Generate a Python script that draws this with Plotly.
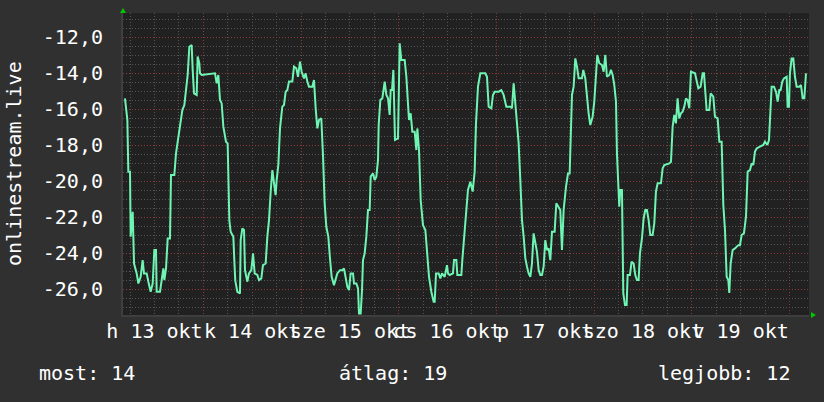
import datetime as dt
import plotly.graph_objects as go

# ---------------- data ----------------
start_day = dt.datetime(2025, 10, 13)

hours = [
    4.76, 5.17, 5.34, 5.58, 5.99, 6.16, 6.65, 6.81, 6.98, 7.63, 8.04, 8.61, 9.10, 9.43, 10.09, 10.50,
    11.07, 11.56, 11.97, 12.38, 12.54, 13.36, 13.77, 14.18, 14.43, 14.84, 15.25, 15.82, 16.06, 16.88,
    17.29, 17.87, 18.28, 18.85, 19.34, 19.67, 20.16, 20.57, 21.14, 21.39, 21.71, 22.37, 22.61, 23.02,
    23.19, 23.60, 26.87, 27.28, 27.69, 28.10, 28.51, 28.92, 29.57, 29.98, 30.39, 30.72, 31.38,
    31.62, 31.85, 32.36, 33.01, 33.18, 33.59, 34.00, 34.24, 34.82, 35.22, 35.80, 36.21, 36.62, 37.27,
    37.68, 38.25, 38.66, 39.32, 39.73, 40.14, 40.55, 40.96, 41.37, 41.77, 42.02, 42.43, 42.84, 43.41,
    43.82, 44.23, 44.64, 45.05, 45.87, 46.28, 46.85, 47.26, 47.75, 48.16, 48.73, 49.14, 49.55, 49.96,
    50.78, 51.19, 51.60, 52.01, 52.42, 52.99, 53.40, 53.81, 54.22, 54.71, 55.12, 55.53, 56.10, 56.51,
    56.92, 57.58, 58.15, 58.56, 58.97, 59.38, 59.79,
    60.20, 60.78, 61.02, 61.60, 62.01, 62.25, 62.66, 62.99, 63.23, 63.64, 64.05, 64.46, 64.87, 65.12,
    65.69, 66.10, 66.51, 66.92, 67.08, 67.49, 67.98, 68.56, 68.97, 69.38, 69.78, 70.03, 70.36, 70.69,
    70.85, 71.09, 71.83, 72.08, 72.24, 72.65, 73.47, 73.88, 74.12, 74.53, 74.94, 75.35, 75.93, 76.34,
    76.58, 76.99, 77.40, 77.97, 78.55, 79.04, 79.45, 80.02, 80.59, 80.84, 81.17, 81.82, 82.23, 82.64,
    83.30, 83.87, 84.11, 84.52, 85.34, 85.59, 86.16, 86.41, 87.39, 87.63, 88.04,
    88.21, 88.53, 89.02, 89.60, 90.17, 90.66, 90.99, 91.48, 92.05, 93.28, 93.69, 94.10, 94.76, 95.16,
    95.57, 96.56, 97.21, 97.78, 98.44, 99.42, 99.83, 100.24, 100.65, 101.06, 101.47, 101.88, 102.29,
    102.70, 103.11, 103.52, 103.93, 104.34, 104.74, 105.15, 105.56, 105.97, 106.38, 106.79, 107.20,
    107.61, 108.02, 108.43, 108.84, 109.25, 109.66, 110.31, 110.72, 111.30, 111.70, 112.11, 112.52,
    113.10, 113.59, 114.00, 114.24, 114.57, 114.98, 115.39, 115.80, 116.21,
    117.02, 117.35, 117.84, 118.25, 118.66, 119.07, 119.64, 120.05, 120.46, 120.79, 121.28, 121.94,
    122.35, 122.76, 123.16, 123.74, 124.15, 124.56, 124.97, 125.38, 125.62, 125.95, 126.19, 126.44,
    126.85, 127.18, 127.59, 128.00, 128.24, 128.81, 129.22, 129.72, 130.12, 130.53, 130.94, 131.27,
    131.76, 132.17, 132.58, 132.99, 133.40, 133.81, 134.38, 134.79, 135.20, 135.61, 136.43, 136.84,
    137.25, 138.48, 138.89, 139.30, 139.70, 140.11, 140.52, 140.93, 141.34, 141.75, 142.16, 142.57,
    142.98, 143.39, 143.80,
    144.79, 145.20, 145.61, 146.18, 146.67, 147.00, 147.24, 147.65, 148.31, 148.64, 149.29, 149.70,
    150.36, 150.77, 151.34, 151.75, 152.16, 152.57, 152.98, 153.22, 153.55, 154.04, 154.61, 155.02,
    155.43, 155.84, 156.25, 156.82, 157.32, 157.73, 158.30, 158.71, 159.12, 159.53, 159.94, 160.75,
    161.57, 161.98, 162.56, 162.97, 163.21, 163.62, 164.19, 164.69, 165.10, 165.50, 165.83, 166.24,
    166.65, 167.31, 167.55, 167.88, 168.12, 168.53, 168.94, 169.35, 169.76, 170.42, 170.83, 171.24,
    171.65, 171.89, 172.06,
]

values = [
    -15.39, -16.04, -16.59, -19.46, -19.46, -23.07, -21.69, -23.07, -24.56, -25.11, -25.67, -25.30, -24.37, -25.11, -25.11, -25.57,
    -26.13, -25.67, -23.81, -23.81, -26.13, -26.13, -25.30, -24.83, -25.48, -24.83, -23.17, -23.17, -19.65, -19.65,
    -18.44, -17.52, -16.69, -16.04, -15.76, -15.11, -14.09, -12.52, -12.43, -13.81, -15.11, -15.20, -13.07, -13.44,
    -14.00, -14.09, -14.00, -14.56, -14.09, -15.48, -15.67, -16.96, -17.80, -17.89, -22.15, -22.80, -23.07,
    -24.40, -25.50, -26.13, -26.22, -23.26, -22.61, -22.70, -24.93, -25.57, -25.11, -24.93, -24.00, -25.11, -25.20,
    -25.48, -25.39, -24.65, -24.56, -23.07, -22.15, -20.57, -19.37, -20.11, -20.76, -19.93, -19.09, -17.06, -15.85,
    -15.76, -15.02, -14.93, -14.46, -14.46, -13.63, -13.72, -14.19, -13.35, -13.91, -14.28, -14.00, -14.46, -14.74,
    -14.74, -14.37, -15.94, -17.06, -16.59, -16.50, -18.54, -21.22, -22.52, -23.07, -24.28, -25.30, -25.76, -25.39,
    -25.11, -24.93, -24.93, -24.83, -25.30, -25.85, -26.04,
    -25.11, -25.11, -25.67, -25.67, -25.94, -27.33, -27.33, -26.04, -24.37, -24.00, -23.07, -21.59, -21.59, -19.74,
    -19.56, -19.93, -19.74, -18.81, -16.87, -15.48, -15.39, -14.46, -15.20, -15.39, -16.31, -14.93, -14.93, -13.81,
    -16.04, -17.70, -17.61, -13.63, -12.33, -13.26, -13.26, -14.19, -14.93, -16.59, -16.22, -17.24, -17.24, -18.26,
    -17.06, -18.26, -21.04, -22.43, -22.70, -24.19, -25.30, -26.13, -26.69, -26.69, -25.11, -25.11, -25.39, -25.11,
    -25.30, -24.65, -25.11, -25.20, -25.11, -24.37, -24.37, -25.20, -25.20, -24.37, -23.07,
    -22.98, -21.59, -20.48, -20.02, -20.57, -19.46, -16.78, -14.74, -14.00, -14.00, -14.19, -15.85, -15.94, -15.20,
    -15.02, -15.02, -14.93, -15.20, -15.85, -15.85, -15.94, -14.56, -15.67, -16.59, -17.89, -19.93, -22.15,
    -23.07, -24.28, -24.74, -25.11, -25.30, -24.56, -22.89, -23.54, -23.91, -24.93, -25.20, -25.20,
    -24.74, -23.26, -23.81, -23.72, -24.37, -22.80, -22.80, -21.22, -21.41, -21.59, -23.81, -21.59,
    -20.30, -19.56, -19.56, -17.15, -15.20, -14.74, -13.17, -13.63, -14.28,
    -14.28, -13.81, -14.28, -15.39, -16.22, -16.87, -16.41, -15.57, -13.81, -12.98, -13.44, -13.54,
    -13.91, -12.98, -14.19, -14.09, -13.81, -14.09, -14.65, -15.57, -18.44, -20.48, -21.41, -20.48,
    -20.48, -26.22, -26.87, -26.87, -25.20, -25.20, -24.46, -24.56, -25.20, -25.48, -25.48, -24.00,
    -23.17, -22.06, -21.59, -21.59, -22.15, -22.98, -22.98, -22.33, -20.57, -20.11, -20.11, -19.28,
    -19.09, -19.00, -18.91, -16.96, -16.31, -16.78, -15.39, -16.50, -16.22, -16.13, -15.85, -15.39,
    -15.48, -15.94, -13.91,
    -14.00, -14.37, -14.83, -14.74, -14.00, -14.00, -14.93, -16.04, -16.04, -15.11, -15.30, -16.41,
    -16.50, -17.80, -17.80, -21.31, -22.70, -25.30, -25.48, -26.19, -24.56, -23.81, -23.72, -23.63,
    -23.54, -23.54, -22.98, -22.89, -21.96, -19.46, -19.37, -19.00, -19.09, -18.35, -18.17, -18.07,
    -17.98, -17.80, -17.98, -17.70, -16.22, -14.74, -14.74, -15.02, -15.57, -14.93, -14.93, -14.46,
    -14.28, -14.19, -15.85, -15.85, -14.00, -13.17, -13.17, -14.19, -14.74, -14.74, -14.65, -15.39,
    -15.39, -14.00, -14.00,
]

day_labels = ["h 13 okt", "k 14 okt", "sze 15 okt", "cs 16 okt", "p 17 okt", "szo 18 okt", "v 19 okt"]
y_tick_values = [-26, -24, -22, -20, -18, -16, -14, -12]
y_tick_labels = ["-26,0", "-24,0", "-22,0", "-20,0", "-18,0", "-16,0", "-14,0", "-12,0"]
y_title = "onlinestream.live"
summary_current = "most: 14"
summary_average = "átlag: 19"
summary_best = "legjobb: 12"

range_start_hours = 4.27
range_end_hours = 172.8
y_range = [-27.42, -10.65]

# ---------------- figure ----------------
times = [start_day + dt.timedelta(hours=h) for h in hours]
label_times = [start_day + dt.timedelta(days=i, hours=12) for i in range(len(day_labels))]
midnights = [start_day + dt.timedelta(days=i) for i in range(9)]
six_hourly = [start_day + dt.timedelta(hours=6 * k) for k in range(36) if k % 4 != 0]
half_steps = [-28 + 0.5 * k for k in range(40) if k % 4 != 0]
x_range = [start_day + dt.timedelta(hours=range_start_hours),
           start_day + dt.timedelta(hours=range_end_hours)]

W, H = 824, 402
L, R, T, B = 123, 15, 13, 87
PW, PH = W - L - R, H - T - B

def px_x(px):
    return (px - L) / PW

def px_y(py):
    return 1 - (py - T) / PH

FONT = "DejaVu Sans Mono"
TXT = "#ffffff"
MINOR = "#555555"
MAJOR = "#8c3a3a"
DASH = "1px,2px"

fig = go.Figure()
fig.add_trace(go.Scatter(
    x=times, y=values, mode="lines",
    line=dict(color="#6ff5b3", width=2),
    hoverinfo="skip", showlegend=False,
))
# carrier trace for the label axis
fig.add_trace(go.Scatter(
    x=[times[0]], y=[values[0]], xaxis="x2", yaxis="y", mode="markers",
    marker=dict(opacity=0), hoverinfo="skip", showlegend=False,
))

fig.update_layout(
    width=W, height=H,
    margin=dict(l=L, r=R, t=T, b=B, pad=0),
    paper_bgcolor="#303030",
    plot_bgcolor="#212121",
    font=dict(family=FONT, size=20, color=TXT),
    showlegend=False,
    xaxis=dict(
        type="date", range=x_range,
        tickmode="array", tickvals=midnights,
        showticklabels=False, ticks="",
        showgrid=True, gridcolor=MAJOR, griddash=DASH, gridwidth=1,
        minor=dict(tickmode="array", tickvals=six_hourly,
                   showgrid=True, gridcolor=MINOR, griddash=DASH, gridwidth=1, ticks=""),
        showline=True, linecolor="#3e3e3e", linewidth=2,
        zeroline=False, fixedrange=True,
    ),
    xaxis2=dict(
        type="date", overlaying="x", matches="x", anchor="y", side="bottom",
        tickmode="array", tickvals=label_times, ticktext=day_labels,
        tickangle=0, ticks="", showgrid=False, showline=False, zeroline=False,
        tickfont=dict(family=FONT, size=20, color=TXT),
        ticklabelstandoff=2,
    ),
    yaxis=dict(
        range=y_range,
        tickmode="array", tickvals=y_tick_values, ticktext=y_tick_labels,
        ticks="", ticklabelstandoff=14,
        tickfont=dict(family=FONT, size=20, color=TXT),
        showgrid=True, gridcolor=MAJOR, griddash=DASH, gridwidth=1,
        minor=dict(tickmode="array", tickvals=half_steps,
                   showgrid=True, gridcolor=MINOR, griddash=DASH, gridwidth=1, ticks=""),
        showline=True, linecolor="#3e3e3e", linewidth=2,
        zeroline=False, fixedrange=True,
    ),
)

# y-axis title
fig.add_annotation(
    text=y_title, textangle=-90, xref="paper", yref="paper",
    x=px_x(14), y=px_y(164), xanchor="center", yanchor="middle",
    showarrow=False, font=dict(family=FONT, size=20, color=TXT),
)
# summary line
for txt, px, anchor in [(summary_current, 37, "left"),
                        (summary_average, 393, "center"),
                        (summary_best, 792, "right")]:
    fig.add_annotation(
        text=txt, xref="paper", yref="paper", x=px_x(px), y=px_y(373),
        xanchor=anchor, yanchor="middle", showarrow=False,
        font=dict(family=FONT, size=20, color=TXT),
    )

# axis arrows
fig.add_shape(type="path", xref="x domain", yref="y domain",
              xsizemode="pixel", ysizemode="pixel", xanchor=0, yanchor=1,
              path="M -3,0 L 3,0 L 0,5 Z", fillcolor="#00c800", line=dict(width=0))
fig.add_shape(type="path", xref="x domain", yref="y domain",
              xsizemode="pixel", ysizemode="pixel", xanchor=1, yanchor=0,
              path="M 2,-3 L 2,3 L 7,0 Z", fillcolor="#00c800", line=dict(width=0))

fig.write_html(
    "out.html",
    config={"displayModeBar": False},
    post_script="document.body.style.margin='0';document.body.style.background='#303030';",
)
